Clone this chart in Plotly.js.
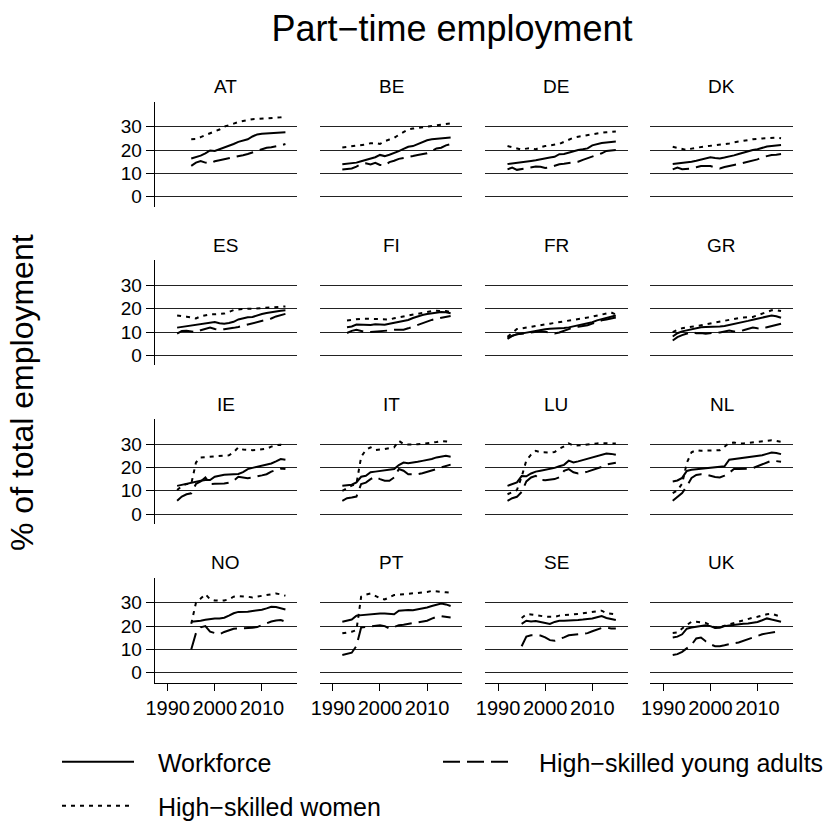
<!DOCTYPE html>
<html>
<head>
<meta charset="utf-8">
<script src="https://cdn.plot.ly/plotly-3.0.1.min.js"></script>
<style>html,body{margin:0;padding:0;background:#fff;}#chart{width:838px;height:827px;}</style>
</head>
<body>
<div id="chart"></div>
<script>
// ---------------- DATA ----------------
const countries = ["AT","BE","DE","DK","ES","FI","FR","GR","IE","IT","LU","NL","NO","PT","SE","UK"];
const seriesNames = ["Workforce","High\u2212skilled young adults","High\u2212skilled women"];
const xTickVals = [1990, 2000, 2010];
const yTickVals = [0, 10, 20, 30];

const years92 = [1992,1993,1994,1995,1996,1997,1998,1999,2000,2001,2002,2003,2004,2005,2006,2007,2008,2009,2010,2011,2012,2013,2014,2015];
const years93 = [1993,1994,1995,1996,1997,1998,1999,2000,2001,2002,2003,2004,2005,2006,2007,2008,2009,2010,2011,2012,2013,2014,2015];
const years95 = [1995,1996,1997,1998,1999,2000,2001,2002,2003,2004,2005,2006,2007,2008,2009,2010,2011,2012,2013,2014,2015];

const AT_work  = [16.4,17.0,17.6,18.6,19.8,19.6,20.3,21.0,22.0,22.6,23.5,24.0,24.6,25.8,26.7,27.0,27.1,27.2,27.3,27.4,27.6];
const AT_women = [24.6,24.7,25.5,26.5,27.2,28.0,28.8,30.0,30.5,31.3,32.0,32.5,33.0,33.2,33.3,33.4,33.5,33.6,33.8,34.0,34.3];
const AT_young = [13.2,14.6,15.3,14.6,14.3,15.2,15.6,16.0,16.3,17.0,17.4,17.8,18.3,19.0,19.6,20.5,21.0,21.2,21.5,22.0,22.6];

const BE_work  = [13.9,14.1,14.3,14.6,15.2,15.7,16.3,16.9,17.9,17.4,18.0,18.6,19.5,20.5,21.4,21.7,22.5,23.6,24.2,24.6,24.8,25.0,25.2,25.4];
const BE_women = [21.1,21.3,21.5,21.7,22.0,22.4,22.9,23.0,22.6,23.8,24.5,25.2,26.5,27.8,28.8,29.2,29.5,29.7,30.0,30.3,30.6,30.9,31.1,31.4];
const BE_young = [11.7,11.9,12.1,12.9,14.0,14.3,13.8,14.5,13.6,13.4,14.8,15.4,16.2,16.6,16.9,17.4,17.9,18.3,18.6,19.5,20.7,21.0,22.0,22.5];

const DE_work  = [14.0,14.2,14.4,14.6,15.0,15.3,15.6,16.1,16.6,16.8,17.1,18.2,18.3,18.9,19.5,20.0,20.3,20.7,22.0,22.6,23.0,23.2,23.4,23.6];
const DE_women = [21.7,21.3,20.9,20.2,20.6,20.8,20.3,21.2,21.7,21.9,22.2,22.6,23.5,24.4,25.3,25.7,26.1,26.5,26.8,27.1,27.4,27.6,27.8,27.9];
const DE_young = [11.7,12.5,11.5,11.8,12.0,12.5,12.9,12.8,12.3,12.6,13.2,13.9,14.1,14.3,14.7,15.0,15.8,16.6,17.2,17.9,18.6,19.6,19.8,20.0];

const DK_work  = [14.0,14.2,14.4,14.6,15.0,15.4,15.9,16.4,16.9,16.6,16.4,16.8,17.1,17.7,18.3,18.9,19.7,20.0,20.3,21.0,21.5,21.7,21.9,22.1];
const DK_women = [21.4,21.0,20.5,20.0,20.6,21.0,21.4,21.6,21.8,22.0,22.1,22.4,22.8,23.3,23.7,24.0,24.4,24.6,24.8,25.0,25.2,25.4,25.3,25.0];
const DK_young = [11.7,12.5,11.8,11.8,12.1,12.6,13.1,13.1,13.1,12.5,12.1,12.7,13.3,13.6,14.0,14.5,15.0,15.5,16.0,16.9,17.4,17.9,18.0,18.3];

const ES_work  = [11.9,12.2,12.5,12.7,12.9,13.3,13.7,14.0,14.3,13.8,13.6,13.9,14.4,15.4,15.9,16.3,16.5,17.2,17.7,18.2,18.6,18.9,19.1,19.3];
const ES_women = [17.1,17.0,16.6,16.3,15.8,16.8,17.3,17.6,17.6,17.7,17.9,18.6,19.4,19.7,20.0,20.0,20.0,20.1,20.3,20.4,20.6,20.7,20.9,21.0];
const ES_young = [9.3,10.5,10.6,10.2,10.0,10.8,11.5,11.9,11.3,11.0,11.2,11.4,11.8,12.2,12.7,13.1,13.6,14.1,14.6,15.1,15.8,16.7,17.3,17.8];

const FI_work  = [12.1,12.4,13.2,13.1,12.9,13.0,13.3,13.2,13.1,13.6,14.0,14.4,14.7,15.2,16.0,16.7,17.3,17.7,18.0,18.3,18.6,18.5,18.1];
const FI_women = [15.0,15.3,15.6,15.7,15.7,15.6,15.4,15.3,15.3,15.4,15.9,16.3,16.7,17.1,17.6,18.0,18.4,18.8,19.0,19.1,19.1,19.0,18.6];
const FI_young = [9.6,10.5,11.0,10.6,10.0,10.0,10.1,10.2,10.4,10.7,11.0,11.0,11.0,11.6,12.3,13.2,14.0,14.6,15.2,15.7,16.2,16.6,16.9];

const FR_work  = [7.1,8.4,9.0,9.4,9.8,10.2,10.6,10.9,11.2,11.4,11.4,11.5,11.7,12.0,12.4,12.9,13.2,13.6,14.2,15.0,15.6,16.2,16.7,17.1];
const FR_women = [8.0,9.5,11.3,11.6,12.0,12.3,12.7,13.0,13.3,13.6,13.9,14.1,14.5,14.8,15.1,15.4,15.8,16.2,16.6,17.0,17.6,18.1,18.4,17.5];
const FR_young = [7.6,8.5,9.1,9.3,9.5,9.7,10.0,10.3,10.1,9.7,9.4,9.8,10.5,11.3,12.0,12.3,12.5,12.9,13.6,14.4,15.0,15.4,15.8,16.2];

const GR_work  = [8.1,9.5,10.3,10.8,11.3,11.7,12.1,12.2,12.2,12.3,12.4,12.6,13.0,13.3,13.8,14.3,14.8,15.3,15.8,16.2,16.7,17.1,16.8,16.1];
const GR_women = [10.0,11.0,11.6,12.1,12.3,12.5,12.9,13.3,13.8,14.3,14.7,15.0,15.3,15.6,16.0,16.2,16.3,16.5,17.2,18.0,18.8,19.3,19.4,19.0];
const GR_young = [6.4,7.8,8.7,9.3,10.0,9.5,9.6,9.3,9.6,9.7,9.8,10.3,10.7,10.2,10.3,10.8,11.4,11.9,11.6,11.4,12.1,12.7,13.1,13.6];

const IE_work  = [12.1,12.6,13.1,13.5,14.0,14.3,14.6,14.6,16.0,16.5,16.9,17.0,17.1,17.2,18.0,19.3,19.8,20.2,20.6,21.2,21.7,22.6,23.6,23.3];
const IE_women = [10.3,12.0,12.9,12.9,22.1,24.3,24.4,24.5,24.7,24.9,25.0,25.2,26.5,28.6,27.7,27.5,27.4,27.5,27.7,28.0,28.9,29.5,29.7,28.9];
const IE_young = [5.7,7.5,8.5,8.9,12.9,14.0,15.7,12.9,13.0,13.0,13.1,13.5,14.3,16.0,15.7,15.4,15.7,16.0,16.6,17.1,18.2,18.9,19.5,19.3];

const IT_work  = [12.1,12.3,12.6,13.6,16.0,16.4,17.9,18.2,18.4,18.6,18.9,19.3,21.0,22.1,21.8,22.0,22.4,22.8,23.1,23.6,24.3,24.8,25.0,24.6];
const IT_women = [10.0,11.2,12.2,13.0,24.5,27.5,28.6,27.4,27.5,27.9,28.3,28.6,31.4,30.0,29.8,29.7,29.9,30.1,30.3,30.6,30.9,31.3,31.2,31.0];
const IT_young = [5.7,6.8,7.1,7.5,12.9,13.5,15.0,16.0,15.0,14.3,14.3,15.7,19.3,18.6,17.1,17.0,17.1,17.5,18.0,18.6,19.3,20.0,20.7,21.2];

const LU_work  = [12.1,12.7,13.6,16.3,16.2,17.4,18.2,18.6,19.0,19.3,19.8,20.5,21.1,22.9,22.1,22.6,23.2,23.8,24.4,25.0,25.6,26.0,25.8,25.4];
const LU_women = [8.5,9.3,10.3,16.0,23.0,25.5,27.1,26.5,26.4,26.4,26.6,28.0,29.0,30.3,29.3,29.3,29.5,29.8,30.2,30.3,30.4,30.3,30.3,30.2];
const LU_young = [5.7,6.8,7.4,9.5,14.0,15.7,16.4,14.6,14.5,14.6,15.0,15.8,18.5,19.3,17.9,17.4,17.6,18.2,18.8,19.5,20.2,21.2,21.6,22.0];

const NL_work  = [14.0,14.4,15.5,18.5,19.0,19.2,19.6,19.8,20.0,20.1,20.2,20.5,23.3,23.6,23.7,24.0,24.2,24.5,24.8,25.2,25.8,26.4,26.2,25.7];
const NL_women = [9.0,10.2,13.0,22.0,26.5,27.4,27.1,27.1,27.1,27.2,27.4,28.9,30.5,30.7,30.3,30.3,30.5,30.8,31.1,31.4,31.6,31.6,31.4,31.0];
const NL_young = [5.7,7.2,9.0,12.0,15.5,16.8,17.1,17.0,16.4,15.9,15.7,16.5,17.7,19.3,19.3,19.3,19.5,19.7,20.5,21.4,22.1,22.9,22.7,22.4];

const NO_work  = [21.9,22.0,22.3,22.7,23.1,23.3,23.3,23.6,24.5,25.5,26.1,26.0,26.2,26.5,26.7,27.0,27.6,28.3,28.2,27.7,27.1];
const NO_women = [21.0,30.0,31.8,33.7,31.5,31.0,30.9,31.0,31.5,32.6,32.9,32.9,32.6,32.3,32.6,33.0,33.3,33.6,34.0,33.6,33.0];
const NO_young = [10.0,17.0,19.5,20.0,17.6,16.9,16.5,17.5,18.3,18.9,19.0,19.0,19.1,19.3,19.6,20.4,21.2,22.0,22.4,22.6,21.9];

const PT_work  = [21.9,22.2,22.8,24.5,24.7,24.9,25.2,25.4,25.4,25.4,25.3,25.1,26.6,26.9,26.9,26.8,27.1,27.6,28.0,28.6,29.0,29.7,29.3,28.6];
const PT_women = [16.9,17.2,17.6,18.3,32.6,33.5,34.0,33.0,32.0,31.4,32.5,33.3,33.5,33.7,33.7,33.8,34.0,34.3,34.6,35.1,35.0,34.7,34.5,34.3];
const PT_young = [7.6,8.0,8.6,11.5,19.4,19.6,19.8,20.2,20.4,20.0,19.0,19.6,20.4,20.6,20.9,21.1,21.4,21.8,22.3,23.2,24.0,24.3,24.0,23.7];

const SE_work  = [21.0,22.3,22.0,22.2,21.8,21.3,20.9,21.8,22.3,22.3,22.3,22.5,22.6,22.8,23.0,23.3,23.8,24.3,23.5,23.0,22.6];
const SE_women = [23.5,25.1,25.0,24.6,24.3,24.1,24.0,24.0,24.5,24.8,25.1,25.1,25.2,25.5,25.8,26.1,26.4,26.6,25.6,25.5,25.1];
const SE_young = [11.4,15.5,16.1,16.1,16.0,15.2,14.0,13.7,14.3,15.2,16.1,16.3,16.6,16.7,17.0,17.8,18.5,19.2,19.4,19.0,19.0];

const UK_work  = [15.1,15.5,16.5,18.9,19.4,19.8,20.2,20.4,20.0,19.2,19.3,20.0,20.3,20.6,20.9,21.0,21.1,21.3,21.8,22.5,23.3,22.8,22.3,21.9];
const UK_women = [17.1,17.3,19.0,20.5,21.9,21.9,21.8,21.4,20.4,19.4,19.6,20.2,20.8,21.4,22.0,22.6,23.3,23.6,24.0,24.6,25.1,25.3,24.7,24.0];
const UK_young = [7.6,8.0,9.0,10.4,12.0,14.7,15.1,13.5,12.2,11.4,11.4,11.8,12.4,12.7,13.0,13.7,14.5,15.1,15.7,16.5,16.9,17.4,17.6,17.1];

// ---------------- ASSEMBLY ----------------
const panelData = {
  AT:[years95,AT_work,AT_young,AT_women], BE:[years92,BE_work,BE_young,BE_women],
  DE:[years92,DE_work,DE_young,DE_women], DK:[years92,DK_work,DK_young,DK_women],
  ES:[years92,ES_work,ES_young,ES_women], FI:[years93,FI_work,FI_young,FI_women],
  FR:[years92,FR_work,FR_young,FR_women], GR:[years92,GR_work,GR_young,GR_women],
  IE:[years92,IE_work,IE_young,IE_women], IT:[years92,IT_work,IT_young,IT_women],
  LU:[years92,LU_work,LU_young,LU_women], NL:[years92,NL_work,NL_young,NL_women],
  NO:[years95,NO_work,NO_young,NO_women], PT:[years92,PT_work,PT_young,PT_women],
  SE:[years95,SE_work,SE_young,SE_women], UK:[years92,UK_work,UK_young,UK_women]
};

const W = 838, H = 827;
const FONT = "Liberation Sans, Arial, Helvetica, sans-serif";
const colLeft = [154.7, 319.9, 485.1, 650.3];
const panelW = 142.5;
const rowZero = [196.7, 355.4, 514.1, 672.8];
const styles = [
  {dash:"solid", width:2},
  {dash:"17px,7px", width:2},
  {dash:"4px,5px", width:2}
];
const legendIds = ["legend","legend2","legend3"];

const traces = [];
const layout = {
  width: W, height: H,
  margin: {l:0, r:0, t:0, b:0, pad:0, autoexpand:false},
  paper_bgcolor: "white", plot_bgcolor: "white",
  font: {family: FONT, color: "black"},
  title: {text: "Part\u2212time employment", x: 452/W, xanchor: "center", automargin: false,
          y: 1 - 28/H, yanchor: "middle", font: {size: 36, family: FONT, color: "black"}},
  annotations: [],
  showlegend: true
};

countries.forEach((cc, i) => {
  const c = i % 4, r = Math.floor(i / 4);
  const n = i + 1;
  const xk = n === 1 ? "xaxis" : "xaxis" + n;
  const yk = n === 1 ? "yaxis" : "yaxis" + n;
  const d = panelData[cc];
  for (let s = 0; s < 3; s++) {
    traces.push({
      x: d[0], y: d[s + 1], xaxis: "x" + n, yaxis: "y" + n,
      type: "scatter", mode: "lines", name: "\u00A0\u00A0\u2009" + seriesNames[s],
      line: {color: "black", width: styles[s].width, dash: styles[s].dash},
      legend: legendIds[s], showlegend: i === 0, hoverinfo: "skip"
    });
  }
  layout[xk] = {
    domain: [colLeft[c] / W, (colLeft[c] + panelW) / W],
    range: [1987.24, 2017.5], anchor: "y" + n,
    showgrid: false, zeroline: false,
    showline: r === 3, linecolor: "black", linewidth: 1,
    ticks: r === 3 ? "outside" : "", ticklen: 7, tickwidth: 1, tickcolor: "black",
    tickmode: "array", tickvals: xTickVals,
    showticklabels: r === 3, tickfont: {size: 20, family: FONT, color: "black"},
    fixedrange: true
  };
  layout[yk] = {
    domain: [1 - (rowZero[r] + 10) / H, 1 - (rowZero[r] - 95) / H],
    range: [-4.29, 40.71], anchor: "x" + n,
    showgrid: true, gridcolor: "#222", gridwidth: 1, zeroline: false,
    tickmode: "array", tickvals: yTickVals,
    showline: c === 0, linecolor: "black", linewidth: 1,
    ticks: c === 0 ? "outside" : "", ticklen: 8, tickwidth: 1, tickcolor: "black",
    showticklabels: c === 0, tickfont: {size: 19, family: FONT, color: "black"},
    fixedrange: true
  };
  layout.annotations.push({
    text: cc, xref: "paper", yref: "paper",
    x: (colLeft[c] + panelW / 2) / W, y: 1 - (rowZero[r] - 110) / H,
    xanchor: "center", yanchor: "middle", showarrow: false,
    font: {size: 19, family: FONT, color: "black"}
  });
});

layout.annotations.push({
  text: "% of total employment", xref: "paper", yref: "paper",
  x: 22 / W, y: 1 - 393 / H, xanchor: "center", yanchor: "middle",
  textangle: -90, showarrow: false, font: {size: 32, family: FONT, color: "black"}
});

const legBase = {orientation: "h", xanchor: "left", yanchor: "middle",
  bgcolor: "rgba(0,0,0,0)", borderwidth: 0, itemwidth: 72,
  font: {size: 25, family: FONT, color: "black"}};
layout.legend  = Object.assign({}, legBase, {x: 57 / W,  y: 1 - 762 / H});
layout.legend2 = Object.assign({}, legBase, {x: 438 / W, y: 1 - 762 / H});
layout.legend3 = Object.assign({}, legBase, {x: 57 / W,  y: 1 - 806 / H});

Plotly.newPlot("chart", traces, layout, {displayModeBar: false, staticPlot: true});
</script>
</body>
</html>
